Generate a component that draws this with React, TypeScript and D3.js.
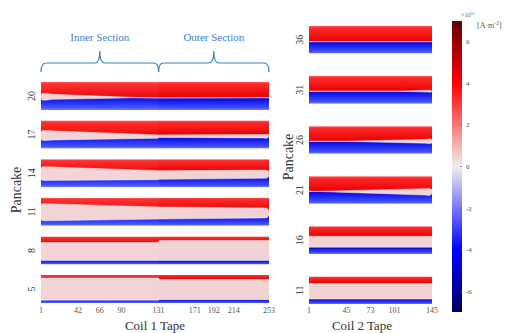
import React from "react";
import * as d3 from "d3";

// [tape, end of positive band, start of negative band] as fraction of tape width (0 = top)
type Pt = [number, number, number];

const coil1Pancakes = [20, 17, 14, 11, 8, 5];
const coil2Pancakes = [36, 31, 26, 21, 16, 11];

const coil1Ticks = [1, 42, 66, 90, 131, 171, 192, 214, 253];
const coil2Ticks = [1, 45, 73, 101, 145];
const colorTicks = [-6, -4, -2, 0, 2, 4, 6];

const c1p20: Pt[] = [[1, 0.47, 0.58], [2, 0.42, 0.64], [6, 0.41, 0.65], [14, 0.44, 0.62], [111, 0.56, 0.56], [131, 0.57, 0.57], [253, 0.56, 0.56]];
const c1p17: Pt[] = [[1, 0.42, 0.63], [2, 0.37, 0.7], [6, 0.35, 0.71], [16, 0.37, 0.69], [130, 0.51, 0.63], [131.5, 0.51, 0.6], [246, 0.5, 0.62], [251, 0.49, 0.63], [253, 0.52, 0.57]];
const c1p14: Pt[] = [[1, 0.33, 0.7], [2, 0.28, 0.75], [6, 0.27, 0.76], [131, 0.41, 0.73], [131.5, 0.41, 0.72], [247, 0.39, 0.68], [251, 0.4, 0.67], [253, 0.45, 0.6]];
const c1p11: Pt[] = [[1, 0.27, 0.76], [2, 0.22, 0.81], [6, 0.21, 0.82], [131, 0.33, 0.76], [131.5, 0.33, 0.76], [247, 0.36, 0.72], [251, 0.38, 0.71], [253, 0.45, 0.62]];
const c1p8: Pt[] = [[1, 0.22, 0.86], [131, 0.22, 0.86], [131.5, 0.15, 0.86], [253, 0.15, 0.86]];
const c1p5: Pt[] = [[1, 0.11, 0.9], [131, 0.11, 0.9], [131.5, 0.16, 0.88], [253, 0.16, 0.88]];

const c2p36: Pt[] = [[1, 0.57, 0.57], [145, 0.57, 0.57]];
const c2p31: Pt[] = [[1, 0.55, 0.55], [105, 0.55, 0.55], [140, 0.51, 0.58], [143, 0.51, 0.59], [145, 0.54, 0.56]];
const c2p26: Pt[] = [[1, 0.55, 0.55], [40, 0.55, 0.55], [138, 0.48, 0.62], [143, 0.46, 0.64], [145, 0.5, 0.6]];
const c2p21: Pt[] = [[1, 0.54, 0.56], [10, 0.55, 0.55], [137, 0.45, 0.68], [142, 0.44, 0.7], [145, 0.48, 0.63]];
const c2p16: Pt[] = [[1, 0.36, 0.76], [145, 0.36, 0.76]];
const c2p11: Pt[] = [[1, 0.26, 0.82], [145, 0.26, 0.82]];

const coil1Profiles = [c1p20, c1p17, c1p14, c1p11, c1p8, c1p5];
const coil2Profiles = [c2p36, c2p31, c2p26, c2p21, c2p16, c2p11];

// colormap, x10^11 A/m^2
const cmapValues = [-7, -4, 0, 4, 7];
const cmapColors = ["#00005e", "#0000ff", "#f2eeee", "#ff0000", "#640000"];

const serif = "'Liberation Serif', 'DejaVu Serif', serif";
const pink = "#f2d3d5";
const accent = "#3c82c4";

function Strip({ pts, x, top, h, id }: { pts: Pt[]; x: d3.ScaleLinear<number, number>; top: number; h: number; id: string }) {
  const y = (f: number) => top + f * h;
  const [x0, x1] = x.range();
  const red = d3.area<Pt>().x((d) => x(d[0])).y0(top).y1((d) => y(d[1]));
  const blue = d3.area<Pt>().x((d) => x(d[0])).y0((d) => y(d[2])).y1(top + h);
  const edgeTop = d3.line<Pt>().x((d) => x(d[0])).y((d) => y(d[1]));
  const edgeBot = d3.line<Pt>().x((d) => x(d[0])).y((d) => y(d[2]));
  return (
    <g>
      <clipPath id={id}>
        <rect x={x0} y={top} width={x1 - x0} height={h} />
      </clipPath>
      <g clipPath={`url(#${id})`}>
        <rect x={x0} y={top} width={x1 - x0} height={h} fill={pink} />
        <path d={red(pts) || ""} fill="url(#redGrad)" />
        <path d={blue(pts) || ""} fill="url(#blueGrad)" />
        <path d={edgeTop(pts) || ""} fill="none" stroke="#ffffff" strokeOpacity={0.6} strokeWidth={0.8} />
        <path d={edgeBot(pts) || ""} fill="none" stroke="#ffffff" strokeOpacity={0.6} strokeWidth={0.8} />
      </g>
    </g>
  );
}

function brace(x0: number, x1: number, tip: number, yEnd: number, yLine: number, yTip: number) {
  const r = 5;
  return `M${x0},${yEnd} Q${x0},${yLine} ${x0 + r},${yLine} L${tip - r},${yLine} Q${tip},${yLine} ${tip},${yTip} Q${tip},${yLine} ${tip + r},${yLine} L${x1 - r},${yLine} Q${x1},${yLine} ${x1},${yEnd}`;
}

export default function App() {
  const W = 506;
  const H = 333;

  const x1 = d3.scaleLinear().domain([1, 253]).range([41, 269]);
  const x2 = d3.scaleLinear().domain([1, 145]).range([309, 432]);
  const y1 = d3.scaleBand<number>().domain(coil1Pancakes).range([82, 303]).paddingInner(0.275);
  const y2 = d3.scaleBand<number>().domain(coil2Pancakes).range([26, 304]).paddingInner(0.45);

  const cmap = d3.scaleLinear<string>().domain(cmapValues).range(cmapColors);
  const cy = d3.scaleLinear().domain([7, -7]).range([21, 312]);
  const cbX = 452;
  const cbW = 10;

  return (
    <svg width={W} height={H} style={{ position: "absolute", left: 0, top: 0, background: "#fff" }} fontFamily={serif}>
      <defs>
        <linearGradient id="redGrad" x1="0" y1="0" x2="0" y2="1">
          <stop offset="0" stopColor="#ff5a5a" />
          <stop offset="0.12" stopColor="#ff2a2a" />
          <stop offset="1" stopColor="#e80000" />
        </linearGradient>
        <linearGradient id="blueGrad" x1="0" y1="0" x2="0" y2="1">
          <stop offset="0" stopColor="#0000e0" />
          <stop offset="0.85" stopColor="#4052ff" />
          <stop offset="1" stopColor="#7385ff" />
        </linearGradient>
        <linearGradient id="cbGrad" x1="0" y1="0" x2="0" y2="1">
          {cmapValues
            .slice()
            .reverse()
            .map((v) => (
              <stop key={v} offset={(cy(v) - 21) / (312 - 21)} stopColor={cmap(v)} />
            ))}
        </linearGradient>
      </defs>

      {/* section braces */}
      <path d={brace(x1(1), x1(131), x1(66), 72, 63, 51)} fill="none" stroke={accent} strokeWidth={1.2} />
      <path d={brace(x1(131), x1(253), x1(192), 72, 63, 51)} fill="none" stroke={accent} strokeWidth={1.2} />
      <text x={x1(66)} y={41} textAnchor="middle" fontSize={11} fill={accent}>Inner Section</text>
      <text x={x1(192)} y={41} textAnchor="middle" fontSize={11} fill={accent}>Outer Section</text>

      {/* coil 1 */}
      {coil1Pancakes.map((p, i) => (
        <g key={`c1-${p}`}>
          <Strip pts={coil1Profiles[i]} x={x1} top={y1(p)!} h={y1.bandwidth()} id={`c1clip${p}`} />
          <rect x={x1(1)} y={y1(p)!} width={x1(131) - x1(1)} height={y1.bandwidth()} fill="#fff" opacity={0.04} />
          <text transform={`translate(35,${y1(p)! + y1.bandwidth() / 2}) rotate(-90)`} textAnchor="middle" fontSize={10} fill="#333">{p}</text>
        </g>
      ))}
      {coil1Ticks.map((t) => (
        <text key={`t1-${t}`} x={x1(t)} y={313} textAnchor="middle" fontSize={8} fill="#555">{t}</text>
      ))}
      <text x={155} y={330} textAnchor="middle" fontSize={13} fill="#333">Coil 1 Tape</text>
      <text transform="translate(21,190) rotate(-90)" textAnchor="middle" fontSize={14} fill="#333">Pancake</text>

      {/* coil 2 */}
      {coil2Pancakes.map((p, i) => (
        <g key={`c2-${p}`}>
          <Strip pts={coil2Profiles[i]} x={x2} top={y2(p)!} h={y2.bandwidth()} id={`c2clip${p}`} />
          <text transform={`translate(303,${y2(p)! + y2.bandwidth() / 2}) rotate(-90)`} textAnchor="middle" fontSize={10} fill="#333">{p}</text>
        </g>
      ))}
      {coil2Ticks.map((t) => (
        <text key={`t2-${t}`} x={x2(t)} y={313} textAnchor="middle" fontSize={8} fill="#555">{t}</text>
      ))}
      <text x={362} y={330} textAnchor="middle" fontSize={13} fill="#333">Coil 2 Tape</text>
      <text transform="translate(293,157) rotate(-90)" textAnchor="middle" fontSize={14} fill="#333">Pancake</text>

      {/* colorbar */}
      <rect x={cbX} y={21} width={cbW} height={291} fill="url(#cbGrad)" />
      {colorTicks.map((t) => (
        <g key={`cb-${t}`}>
          <line x1={cbX + cbW - 2} x2={cbX + cbW} y1={cy(t)} y2={cy(t)} stroke="#555" strokeWidth={0.6} />
          <text x={cbX + cbW + 4} y={cy(t) + 2.5} fontSize={7} fill="#555">{t}</text>
        </g>
      ))}
      <text x={461} y={17} fontSize={6} fill="#666">
        ×10<tspan dy={-2} fontSize={4.5}>11</tspan>
      </text>
      <text x={477} y={28} fontSize={8} fill="#555">
        [A·m<tspan dy={-3} fontSize={5.5}>-2</tspan><tspan dy={3}>]</tspan>
      </text>
    </svg>
  );
}
